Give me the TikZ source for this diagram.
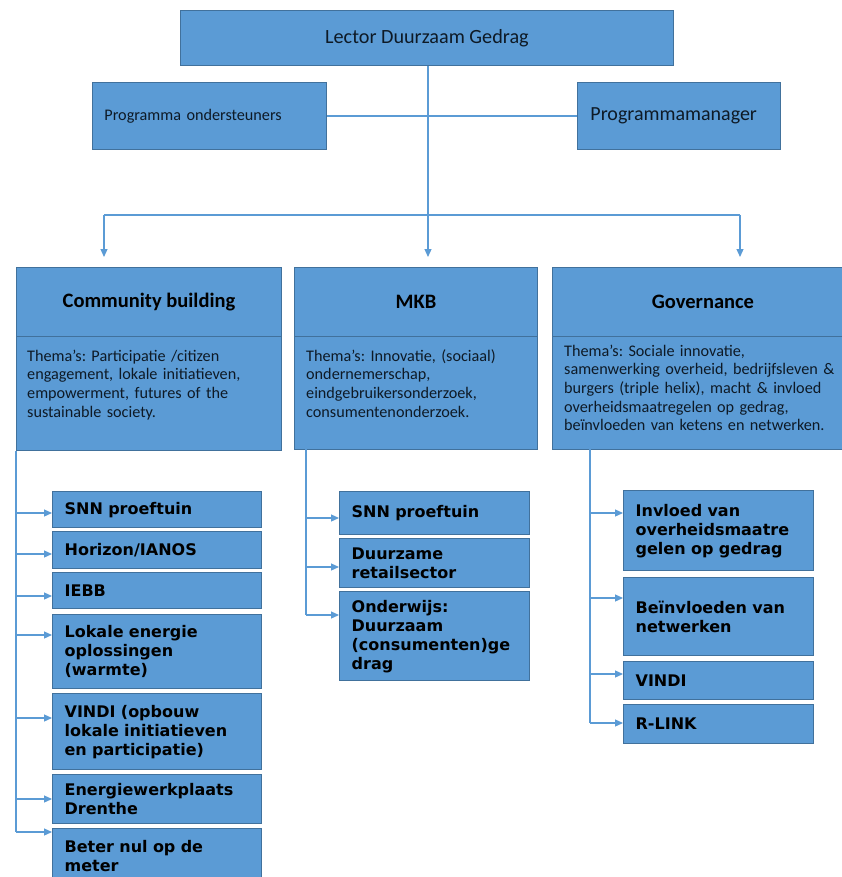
\documentclass[tikz,border=0pt]{standalone}
\usepackage{fontspec}
\setmainfont{Carlito}
\newfontfamily\vfont{DejaVu Sans}
\usetikzlibrary{arrows.meta}
\definecolor{boxblue}{HTML}{5B9BD5}
\definecolor{boxedge}{HTML}{41719C}
\definecolor{linkblue}{HTML}{5B9BD5}
\definecolor{inktext}{HTML}{0E1A26}
\frenchspacing
\begin{document}
\begin{tikzpicture}[x=1pt,y=-1pt,
  topbox/.style={draw=boxedge, line width=0.9pt, fill=boxblue, anchor=north west, inner sep=0pt, text=inktext},
  themebox/.style={draw=boxedge, line width=0.9pt, fill=boxblue, anchor=north west, inner sep=0pt, text=black,
    font=\bfseries\fontsize{20.5}{24}\selectfont},
  themetext/.style={anchor=base west, inner sep=0pt, align=left, text=inktext,
    font=\fontsize{16.2}{18.7}\selectfont},
  item/.style={draw=boxedge, line width=1.3pt, fill=boxblue, anchor=north west, inner xsep=12pt, inner ysep=0pt,
    align=left, text=black, font=\vfont\bfseries\fontsize{16}{19}\selectfont},
  conn/.style={draw=linkblue, line width=1.2pt},
  arr/.style={conn, -{Triangle[length=8pt,width=7pt]}}]
\useasboundingbox (0,0) rectangle (842,877);
\clip (0,0) rectangle (842,877);
\fill[white] (0,0) rectangle (842,877);

% top level
\node[topbox, minimum width=493, minimum height=55, font=\fontsize{20.2}{24}\selectfont] (lector) at (180,10) {Lector Duurzaam Gedrag};
\node[topbox, minimum height=67, text width=210, inner xsep=12pt, align=left, font=\fontsize{16.2}{19}\selectfont] (pond) at (92,82) {Programma ondersteuners};
\node[topbox, minimum height=67, text width=177, inner xsep=13pt, align=left, font=\fontsize{20}{23}\selectfont] (pman) at (577,82) {Programmamanager};

\draw[conn] (pond.east) -- (pman.west);

\coordinate (split) at (428,215);
\coordinate (bl) at (104,215);
\coordinate (br) at (740,215);
\coordinate (tl) at (104,257);
\coordinate (tm) at (428,257);
\coordinate (tr) at (740,257);
\draw[arr] (lector.south -| split) -- (tm);
\draw[conn] (bl) -- (br);
\draw[arr] (bl) -- (tl);
\draw[arr] (br) -- (tr);

% theme columns
\node[themebox, minimum width=265, minimum height=69] (cbhead) at (16,267) {Community building};
\node[themebox, minimum width=265, minimum height=114] (cbbody) at (16,336) {};
\node[themetext, text width=250] (cbtext) at (27,361) {Thema’s: Participatie /citizen\\engagement, lokale initiatieven,\\empowerment, futures of the\\sustainable society.};

\node[themebox, minimum width=243, minimum height=69] (mkbhead) at (294,267) {MKB};
\node[themebox, minimum width=243, minimum height=113] (mkbbody) at (294,336) {};
\node[themetext, text width=228] (mkbtext) at (306,361) {Thema’s: Innovatie, (sociaal)\\ondernemerschap,\\eindgebruikersonderzoek,\\consumentenonderzoek.};

\node[themebox, minimum width=301, minimum height=69] (govhead) at (552,267) {Governance};
\node[themebox, minimum width=301, minimum height=113] (govbody) at (552,336) {};
\node[themetext, text width=285] (govtext) at (564,356) {Thema’s: Sociale innovatie,\\samenwerking overheid, bedrijfsleven \&\\burgers (triple helix), macht \& invloed\\overheidsmaatregelen op gedrag,\\beïnvloeden van ketens en netwerken.};

% left column items
\node[item, text width=185, minimum height=36] (snnl) at (52,491) {SNN proeftuin};
\node[item, text width=185, minimum height=37] (horizon) at (52,531) {Horizon/IANOS};
\node[item, text width=185, minimum height=36] (iebb) at (52,572) {IEBB};
\node[item, text width=185, minimum height=74] (lokale) at (52,614) {Lokale energie\\oplossingen\\(warmte)};
\node[item, text width=185, minimum height=76] (vindil) at (52,693) {VINDI (opbouw\\lokale initiatieven\\en participatie)};
\node[item, text width=185, minimum height=49] (energie) at (52,774) {Energiewerkplaats\\Drenthe};
\node[item, text width=185, minimum height=54] (beter) at (52,828) {Beter nul op de\\meter};

\coordinate (lend) at (16,832);
\draw[conn] (cbbody.south west) -- (lend);
\foreach \yy/\nm in {513/snnl,554/horizon,596/iebb,635/lokale,718/vindil,799/energie,832/beter}{
  \coordinate (lp) at (16,\yy);
  \draw[arr] (lp) -- (lp -| \nm.west);
}

% middle column items
\node[item, text width=166, minimum height=43] (snnm) at (339,491) {SNN proeftuin};
\node[item, text width=166, minimum height=49] (retail) at (339,538) {Duurzame\\retailsector};
\node[item, text width=166, minimum height=89] (onderwijs) at (339,591) {Onderwijs:\\Duurzaam\\(consumenten)ge\\drag};

\coordinate (mstart) at (306,449);
\coordinate (mend) at (306,615);
\draw[conn] (mstart) -- (mend);
\foreach \yy/\nm in {518/snnm,567/retail,615/onderwijs}{
  \coordinate (mp) at (306,\yy);
  \draw[arr] (mp) -- (mp -| \nm.west);
}

% right column items
\node[item, text width=166, minimum height=80] (invloed) at (623,490) {Invloed van\\overheidsmaatre\\gelen op gedrag};
\node[item, text width=166, minimum height=78] (beinv) at (623,577) {Beïnvloeden van\\netwerken};
\node[item, text width=166, minimum height=38] (vindir) at (623,661) {VINDI};
\node[item, text width=166, minimum height=39] (rlink) at (623,704) {R-LINK};

\coordinate (rstart) at (590,449);
\coordinate (rend) at (590,723);
\draw[conn] (rstart) -- (rend);
\foreach \yy/\nm in {513/invloed,598/beinv,674/vindir,723/rlink}{
  \coordinate (rp) at (590,\yy);
  \draw[arr] (rp) -- (rp -| \nm.west);
}
\end{tikzpicture}
\end{document}
